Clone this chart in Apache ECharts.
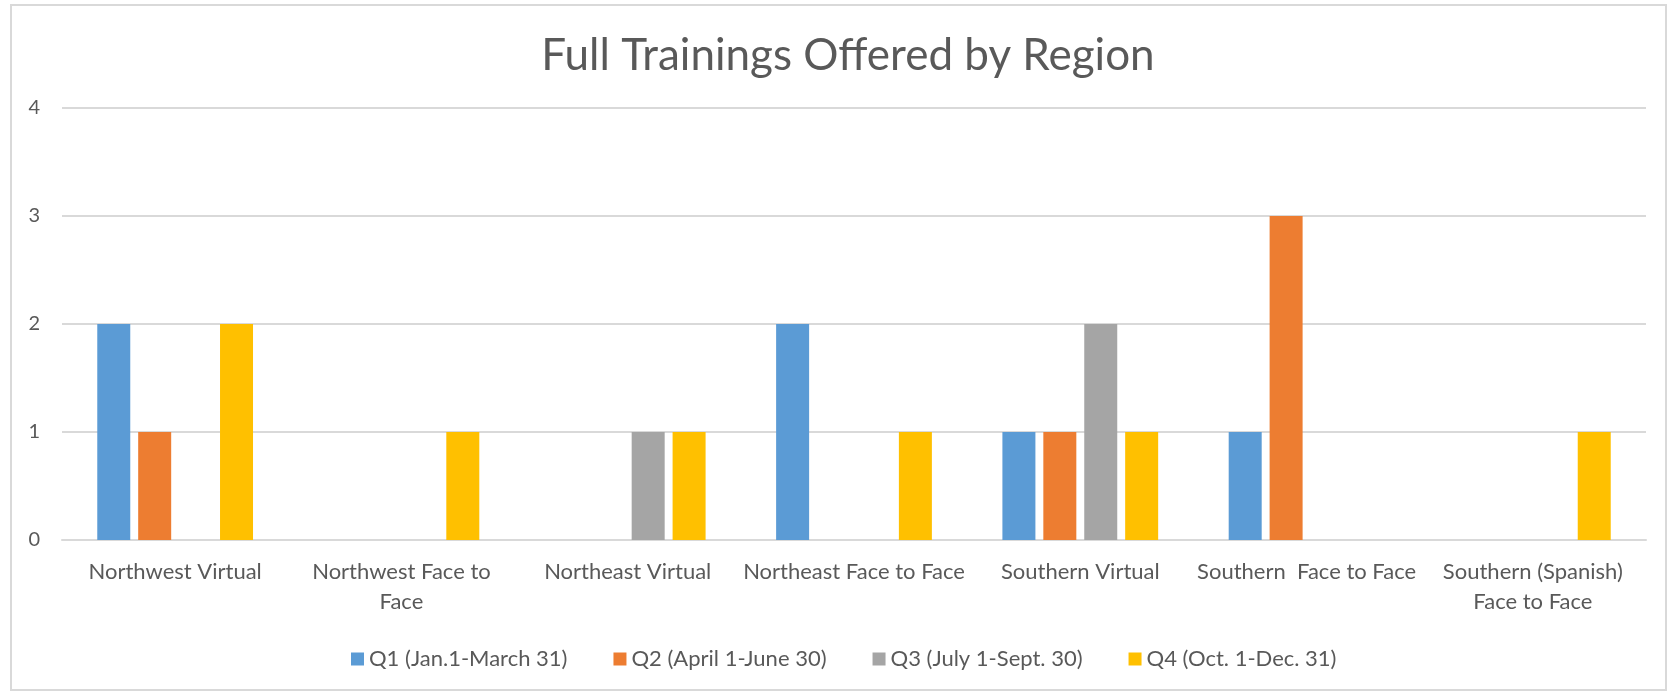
<!DOCTYPE html>
<html>
<head>
<meta charset="utf-8">
<style>
  html, body { margin: 0; padding: 0; background: #fff; }
  #chart { width: 1669px; height: 692px; }
</style>
<script src="https://cdn.jsdelivr.net/npm/echarts@6/dist/echarts.min.js"></script>
</head>
<body>
<div id="chart"></div>
<script>
(function () {
  'use strict';

  const categories = [
    'Northwest Virtual',
    'Northwest Face to\nFace',
    'Northeast Virtual',
    'Northeast Face to Face',
    'Southern Virtual',
    'Southern  Face to Face',
    'Southern (Spanish)\nFace to Face'
  ];
  const seriesNames = [
    'Q1 (Jan.1-March 31)',
    'Q2 (April 1-June 30)',
    'Q3 (July 1-Sept. 30)',
    'Q4 (Oct. 1-Dec. 31)'
  ];
  const q1 = [2, 0, 0, 2, 1, 1, 0];
  const q2 = [1, 0, 0, 0, 1, 3, 0];
  const q3 = [0, 0, 1, 0, 2, 0, 0];
  const q4 = [2, 1, 1, 1, 1, 0, 1];
  const yTicks = [0, 1, 2, 3, 4];

  const colors = ['#5B9BD5', '#ED7D31', '#A5A5A5', '#FFC000'];
  const font = 'Lato, "Liberation Sans", sans-serif';
  const textColor = '#595959';

  const chart = echarts.init(document.getElementById('chart'), null, { renderer: 'canvas' });

  const values = [q1, q2, q3, q4];
  const series = seriesNames.map(function (name, i) {
    return {
      name: name,
      type: 'bar',
      data: values[i],
      barWidth: 33,
      barGap: '24%',
      itemStyle: { color: colors[i] },
      emphasis: { disabled: true }
    };
  });

  chart.setOption({
    animation: false,
    color: colors,
    title: {
      text: 'Full Trainings Offered by Region',
      left: 843,
      top: 29,
      textAlign: 'center',
      textStyle: { fontFamily: font, fontSize: 44, fontWeight: 'normal', color: textColor }
    },
    graphic: [{
      type: 'rect',
      shape: { x: 11, y: 5, width: 1655, height: 685 },
      style: { fill: 'none', stroke: '#D9D9D9', lineWidth: 2 },
      silent: true
    }],
    legend: {
      data: seriesNames,
      left: 346,
      top: 643,
      itemWidth: 13,
      itemHeight: 13,
      itemGap: 46,
      icon: 'rect',
      textStyle: { fontFamily: font, fontSize: 22, color: textColor }
    },
    grid: { left: 62, right: 23, top: 108, bottom: 152 },
    xAxis: {
      type: 'category',
      data: categories,
      axisLine: { lineStyle: { color: '#D9D9D9', width: 2 } },
      axisTick: { show: false },
      axisLabel: {
        interval: 0,
        margin: 17,
        lineHeight: 30,
        fontFamily: font,
        fontSize: 22,
        color: textColor
      }
    },
    yAxis: {
      type: 'value',
      min: yTicks[0],
      max: yTicks[yTicks.length - 1],
      interval: 1,
      axisLine: { show: false },
      axisTick: { show: false },
      splitLine: { lineStyle: { color: '#D9D9D9', width: 2 } },
      axisLabel: { margin: 22, fontFamily: font, fontSize: 20, color: textColor }
    },
    series: series
  });

  window.addEventListener('resize', function () { chart.resize(); });
})();
</script>
</body>
</html>
